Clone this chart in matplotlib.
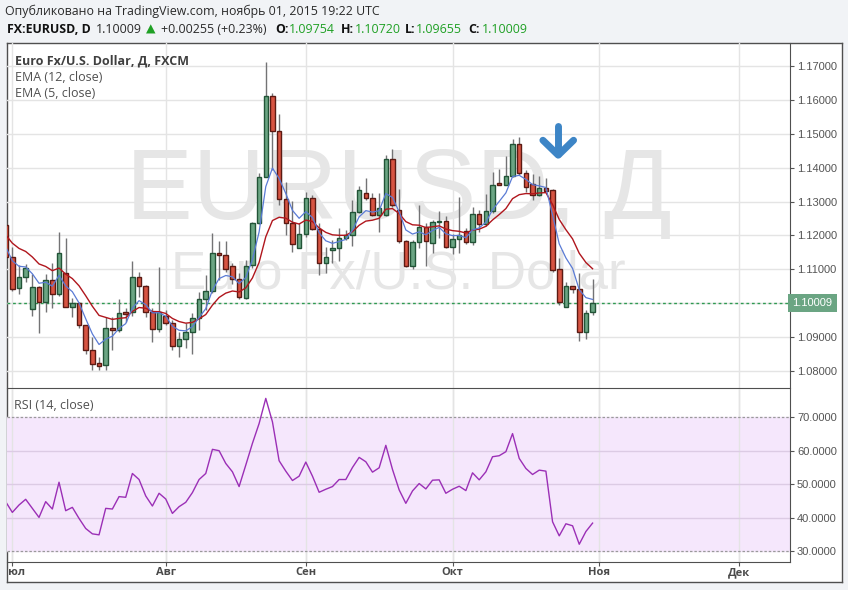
import matplotlib

matplotlib.use("Agg")
import matplotlib.pyplot as plt  # noqa: E402
import matplotlib.transforms as mtransforms  # noqa: E402
import numpy as np
import pandas as pd

W, H = 848, 590

# --- data: daily FX:EURUSD bars, index 0 = 1 Jul 2015 (index -1 = 30 Jun) ---
bar_idx = np.arange(-1, 88)
opens = [
    1.1231, 1.1136, 1.1044, 1.1077, 1.0983, 1.1047, 1.1003, 1.1068, 1.1027, 1.1088,
    1.0988, 1.1000, 1.0935, 1.0861, 1.0823, 1.0817, 1.0927, 1.0920, 1.0973, 1.0973,
    1.1077, 1.1052, 1.0973, 1.0923, 1.0963, 1.0941, 1.0874, 1.0896, 1.0915, 1.0956,
    1.1012, 1.1036, 1.1147, 1.1142, 1.1109, 1.1071, 1.1017, 1.1113, 1.1236, 1.1372,
    1.1612, 1.1508, 1.1307, 1.1236, 1.1162, 1.1204, 1.1310, 1.1218, 1.1118, 1.1156,
    1.1162, 1.1193, 1.1201, 1.1270, 1.1324, 1.1310, 1.1260, 1.1260, 1.1425, 1.1274,
    1.1184, 1.1110, 1.1180, 1.1224, 1.1177, 1.1239, 1.1243, 1.1167, 1.1189, 1.1213,
    1.1180, 1.1263, 1.1233, 1.1273, 1.1355, 1.1350, 1.1376, 1.1470, 1.1385, 1.1352,
    1.1319, 1.1339, 1.1334, 1.1100, 1.0990, 1.1051, 1.1041, 1.0914, 1.09754,
]
highs = [
    1.1240, 1.1165, 1.1113, 1.1116, 1.1086, 1.1051, 1.1086, 1.1120, 1.1210, 1.1193,
    1.1015, 1.1003, 1.0937, 1.0901, 1.0842, 1.0960, 1.0960, 1.1013, 1.0987, 1.1125,
    1.1092, 1.1054, 1.0985, 1.1106, 1.0980, 1.0951, 1.0916, 1.0941, 1.0970, 1.1034,
    1.1083, 1.1206, 1.1184, 1.1184, 1.1120, 1.1088, 1.1129, 1.1239, 1.1383, 1.1713,
    1.1619, 1.1558, 1.1359, 1.1303, 1.1236, 1.1329, 1.1319, 1.1236, 1.1167, 1.1187,
    1.1221, 1.1216, 1.1305, 1.1346, 1.1369, 1.1324, 1.1324, 1.1437, 1.1454, 1.1336,
    1.1187, 1.1187, 1.1290, 1.1238, 1.1246, 1.1272, 1.1258, 1.1204, 1.1313, 1.1223,
    1.1285, 1.1275, 1.1322, 1.1388, 1.1395, 1.1435, 1.1485, 1.1491, 1.1393, 1.1381,
    1.1376, 1.1369, 1.1336, 1.1133, 1.1062, 1.1052, 1.1088, 1.0980, 1.10720,
]
lows = [
    1.1130, 1.1037, 1.1027, 1.1062, 1.0963, 1.0911, 1.0973, 1.0987, 1.1022, 1.0988,
    1.0960, 1.0926, 1.0850, 1.0803, 1.0803, 1.0803, 1.0862, 1.0914, 1.0946, 1.0963,
    1.1018, 1.0960, 1.0887, 1.0916, 1.0936, 1.0862, 1.0842, 1.0867, 1.0850, 1.0921,
    1.0980, 1.1031, 1.1069, 1.1093, 1.1057, 1.1012, 1.1013, 1.1103, 1.1234, 1.1372,
    1.1393, 1.1290, 1.1201, 1.1152, 1.1162, 1.1196, 1.1216, 1.1083, 1.1088, 1.1118,
    1.1126, 1.1187, 1.1169, 1.1265, 1.1305, 1.1258, 1.1211, 1.1258, 1.1285, 1.1177,
    1.1108, 1.1100, 1.1162, 1.1110, 1.1147, 1.1193, 1.1162, 1.1145, 1.1147, 1.1175,
    1.1172, 1.1211, 1.1228, 1.1265, 1.1349, 1.1349, 1.1373, 1.1378, 1.1329, 1.1305,
    1.1316, 1.1332, 1.1093, 1.0995, 1.0990, 1.1030, 1.0890, 1.0894, 1.09655,
]
closes = [
    1.1136, 1.1042, 1.1077, 1.1103, 1.1047, 1.1003, 1.1068, 1.1027, 1.1147, 1.0988,
    1.1000, 1.0935, 1.0861, 1.0820, 1.0816, 1.0926, 1.0920, 1.0972, 1.0968, 1.1077,
    1.1052, 1.0973, 1.0923, 1.0973, 1.0941, 1.0874, 1.0896, 1.0915, 1.0956, 1.1012,
    1.1036, 1.1147, 1.1142, 1.1100, 1.1071, 1.1018, 1.1111, 1.1236, 1.1373, 1.1612,
    1.1508, 1.1307, 1.1236, 1.1174, 1.1204, 1.1310, 1.1218, 1.1118, 1.1137, 1.1162,
    1.1193, 1.1201, 1.1270, 1.1334, 1.1310, 1.1260, 1.1282, 1.1425, 1.1289, 1.1184,
    1.1110, 1.1180, 1.1224, 1.1185, 1.1239, 1.1243, 1.1167, 1.1189, 1.1201, 1.1180,
    1.1263, 1.1234, 1.1273, 1.1349, 1.1350, 1.1376, 1.1470, 1.1385, 1.1342, 1.1319,
    1.1339, 1.1332, 1.1098, 1.1005, 1.1051, 1.1041, 1.0914, 1.0970, 1.10009,
]
rsi14 = [
    44.8, 41.6, 43.8, 45.5, 42.8, 40.1, 44.8, 42.6, 50.6, 42.1,
    43.1, 39.8, 36.8, 35.2, 34.9, 42.8, 42.6, 46.3, 46.1, 53.2,
    51.4, 46.5, 43.5, 47.3, 45.6, 41.3, 43.3, 44.6, 47.5, 51.4,
    53.2, 60.4, 60.0, 56.2, 53.7, 49.3, 55.7, 62.2, 68.1, 75.6,
    68.6, 57.0, 53.9, 51.1, 52.4, 56.6, 52.4, 47.6, 48.5, 49.3,
    51.4, 51.4, 55.0, 58.0, 56.7, 53.6, 54.9, 61.6, 54.4, 48.3,
    44.3, 48.0, 50.2, 48.6, 51.2, 51.3, 47.3, 48.5, 49.4, 48.1,
    53.4, 51.3, 53.7, 58.2, 58.5, 59.7, 65.1, 57.7, 54.7, 52.9,
    54.2, 53.9, 38.8, 34.6, 38.2, 37.6, 32.1, 35.9, 38.4,
]
# EMA values on 30 Jun, used as the starting point
ema12_start = 1.1202
ema5_start = 1.1167

month_pos = [0, 23, 44, 66, 88, 109]
month_names = ["Июл", "Авг", "Сен", "Окт", "Ноя", "Дек"]
price_ticks = [1.08, 1.09, 1.10, 1.11, 1.12, 1.13, 1.14, 1.15, 1.16, 1.17]
rsi_ticks = [30, 40, 50, 60, 70]

o = np.array(opens)
hi = np.array(highs)
lo = np.array(lows)
c = np.array(closes)


def ema(seed, span):
    s = pd.Series([seed] + closes[1:])
    return s.ewm(span=span, adjust=False).mean().to_numpy()


ema12 = ema(ema12_start, 12)
ema5 = ema(ema5_start, 5)

UP, UP_EDGE = "#6ba583", "#225437"
DN, DN_EDGE = "#d75442", "#5b1a13"
WICK = "#737375"
GRID = "#e4e4e4"
FRAME = "#4f4f4f"
TXT = "#555555"
GREEN_TXT = "#1fa024"


def fx(px):
    return px / W


def fy(py):
    return 1 - py / H


fig = plt.figure(figsize=(W / 100, H / 100), dpi=100, facecolor="#f1f3f6")

frame = fig.add_axes([fx(7), fy(582), fx(842 - 7), (582 - 43) / H])
frame.set_facecolor("white")
frame.set_xticks([])
frame.set_yticks([])
for sp in frame.spines.values():
    sp.set_color(FRAME)
    sp.set_linewidth(1)

ax = fig.add_axes([fx(7), fy(388), fx(783), 345 / H])
rsi_ax = fig.add_axes([fx(7), fy(562), fx(783), (562 - 389) / H])
xlim = (-0.8, 116.6)

for a in (ax, rsi_ax):
    a.set_facecolor("none")
    a.set_xlim(*xlim)
    a.spines["top"].set_visible(False)
    a.spines["left"].set_visible(False)
    a.spines["right"].set_color(FRAME)
    a.spines["bottom"].set_color(FRAME)
    a.yaxis.tick_right()
    a.tick_params(axis="y", colors=TXT, labelcolor=TXT, labelsize=8, length=3, pad=2,
                  labelfontfamily="Liberation Sans")
    for m in month_pos:
        a.axvline(m, color=GRID, lw=1, zorder=0)

# --- price panel ---
ax.set_ylim(1.0750, 1.1768)
ax.set_yticks(price_ticks)
last = closes[-1]
# the 1.10000 label sits under the last-price box in the original
ax.set_yticklabels(["" if abs(v - last) < 0.002 else f"{v:.5f}" for v in price_ticks])
ax.set_xticks([])
for v in price_ticks:
    ax.axhline(v, color=GRID, lw=1, zorder=0)

ax.text(0.5, 0.565, "EURUSD, Д", transform=ax.transAxes, ha="center", va="center",
        fontsize=72, color="#e6e6e6", family="Liberation Sans", zorder=0.5)
ax.text(0.5, 0.33, "Euro Fx/U.S. Dollar", transform=ax.transAxes, ha="center", va="center",
        fontsize=38, color="#e6e6e6", family="Liberation Sans", zorder=0.5)

up = c >= o
ax.vlines(bar_idx, lo, hi, color=WICK, lw=1, zorder=2)
ax.bar(bar_idx, np.abs(c - o), bottom=np.minimum(o, c), width=0.68,
       color=np.where(up, UP, DN), edgecolor=np.where(up, UP_EDGE, DN_EDGE),
       linewidth=1, zorder=3)
ax.plot(bar_idx, ema12, color="#b0161d", lw=1, zorder=4)
ax.plot(bar_idx, ema5, color="#5a7bd5", lw=0.9, zorder=4)

ax.axhline(last, color="#2f9a52", lw=1, ls=(0, (2, 2)), zorder=1.5)
trans = mtransforms.blended_transform_factory(ax.transAxes, ax.transData)
ax.text(1.003, last, f"{last:.5f}", transform=trans, ha="left", va="center",
        color="white", fontsize=8, family="Liberation Sans", zorder=6,
        bbox=dict(boxstyle="square,pad=0.38", fc=UP, ec="none"), clip_on=False)

# down arrow marker over the October top
arrow_x, arrow_top, arrow_tip = 81.85, 1.1522, 1.1437
arm_dx, arm_dy = 2.3, 0.0044
arrow_kw = dict(color="#3d85c6", lw=5, solid_capstyle="round", solid_joinstyle="round", zorder=6)
ax.plot([arrow_x, arrow_x], [arrow_top, arrow_tip + 0.0004], **arrow_kw)
ax.plot([arrow_x - arm_dx, arrow_x, arrow_x + arm_dx],
        [arrow_tip + arm_dy, arrow_tip, arrow_tip + arm_dy], **arrow_kw)

fig.text(fx(15), fy(61), "Euro Fx/U.S. Dollar, Д, FXCM", fontsize=9, fontweight="bold",
         color="#404040", va="center", family="Open Sans")
for lab, py in (("EMA (12, close)", 77.5), ("EMA (5, close)", 94)):
    fig.text(fx(15), fy(py), lab, fontsize=9, color="#505050", va="center", family="Open Sans")

# --- RSI panel ---
rsi_ax.set_ylim(26.8, 78.4)
rsi_ax.axhspan(30, 70, color="#f5e7fc", zorder=0)
for m in month_pos:
    rsi_ax.axvline(m, color=GRID, lw=1, zorder=0.5)
for v in (40, 50, 60):
    rsi_ax.axhline(v, color="#dccbe4", lw=1, zorder=0.6)
for v in (30, 70):
    rsi_ax.axhline(v, color="#9a9a9a", lw=0.9, ls=(0, (2, 1.5)), zorder=0.7)
rsi_ax.plot(bar_idx, rsi14, color="#9b2fb6", lw=1, zorder=3)
rsi_ax.set_yticks(rsi_ticks)
rsi_ax.set_yticklabels([f"{v:.4f}" for v in rsi_ticks])
rsi_ax.set_xticks(month_pos)
rsi_ax.set_xticklabels([])
rsi_ax.tick_params(axis="x", colors=TXT, length=3)
fig.text(fx(14), fy(405.5), "RSI (14, close)", fontsize=9, color="#505050", va="center",
         family="Open Sans")
xt = mtransforms.blended_transform_factory(rsi_ax.transData, fig.transFigure)
for m, name in zip(month_pos, month_names):
    t = rsi_ax.text(m, fy(572.5), name, transform=xt, ha="center", va="center", fontsize=8,
                    fontweight="bold", color="#4a4a4a", family="Open Sans", clip_on=True)
    t.set_clip_box(frame.bbox)

# --- header ---
fig.text(fx(5), fy(11), "Опубликовано на TradingView.com, ноябрь 01, 2015 19:22 UTC",
         fontsize=8.9, color="#2a2a2a", va="center", family="Open Sans")
hdr = [
    (7, "FX:EURUSD, D", "#111111", "bold"),
    (96, "1.10009", "#2a2a2a", "normal"),
    (146, "▲", GREEN_TXT, "normal"),
    (161, "+0.00255 (+0.23%)", "#2a2a2a", "normal"),
    (275, "O:", "#111111", "bold"),
    (289, "1.09754", GREEN_TXT, "normal"),
    (341, "H:", "#111111", "bold"),
    (355, "1.10720", GREEN_TXT, "normal"),
    (405, "L:", "#111111", "bold"),
    (416, "1.09655", GREEN_TXT, "normal"),
    (468, "C:", "#111111", "bold"),
    (482, "1.10009", GREEN_TXT, "normal"),
]
for px, s, col, wt in hdr:
    fig.text(fx(px), fy(29.5), s, fontsize=8.9, color=col, fontweight=wt, va="center",
             family=["Open Sans", "DejaVu Sans"])

fig.savefig("out.png", dpi=100, facecolor=fig.get_facecolor())
